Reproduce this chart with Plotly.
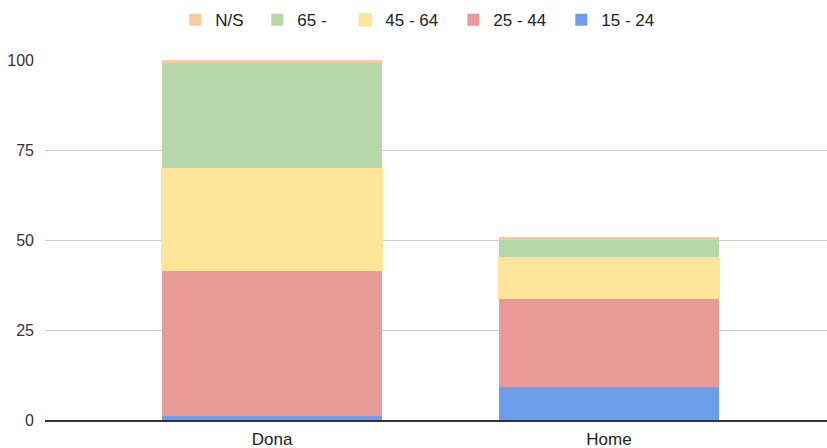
import plotly.graph_objects as go

categories = ["Dona", "Home"]
series_names = ["15 - 24", "25 - 44", "45 - 64", "65 -", "N/S"]
values_15_24 = [1.1, 9.2]
values_25_44 = [40.5, 24.6]
values_45_64 = [28.5, 11.4]
values_65 = [29.0, 4.9]
values_ns = [0.9, 0.8]
colors = ["#6d9eeb", "#ea9999", "#ffe599", "#b6d7a8", "#f9cb9c"]
y_ticks = [0, 25, 50, 75, 100]

series_values = [values_15_24, values_25_44, values_45_64, values_65, values_ns]
legend_widths = [63, 63, 63, 43, 37]

fig = go.Figure()
for name, vals, col, lw in zip(series_names, series_values, colors, legend_widths):
    fig.add_trace(go.Bar(
        x=categories, y=vals, name=name,
        marker=dict(color=col, line=dict(width=1.5 if name == "45 - 64" else 0, color=col)),
        width=0.653, legendwidth=lw,
    ))

fig.update_layout(
    barmode="stack",
    width=827, height=448,
    margin=dict(l=45, r=0, t=60, b=28, autoexpand=False),
    paper_bgcolor="white", plot_bgcolor="white",
    font=dict(family="Liberation Sans, Arial, sans-serif", size=17, color="#222222"),
    legend=dict(orientation="h", xref="container", x=0.212, xanchor="left",
                yref="container", y=0.955, yanchor="middle", traceorder="reversed",
                font=dict(size=17, color="#222222")),
    xaxis=dict(range=[-0.674, 1.647], showgrid=False, showline=True,
               linecolor="#333333", linewidth=1.5, ticks="", ticklabelstandoff=3,
               tickfont=dict(size=17, color="#222222")),
    yaxis=dict(range=[0, 100], tickvals=y_ticks, showgrid=True, gridcolor="#cccccc",
               gridwidth=1, zeroline=False, ticks="", ticklabelstandoff=10,
               tickfont=dict(size=16, color="#333333")),
    showlegend=True,
)

fig.write_html(
    "out.html",
    config={"displayModeBar": False},
    post_script="document.body.style.margin='0';document.body.style.overflow='hidden';",
)
